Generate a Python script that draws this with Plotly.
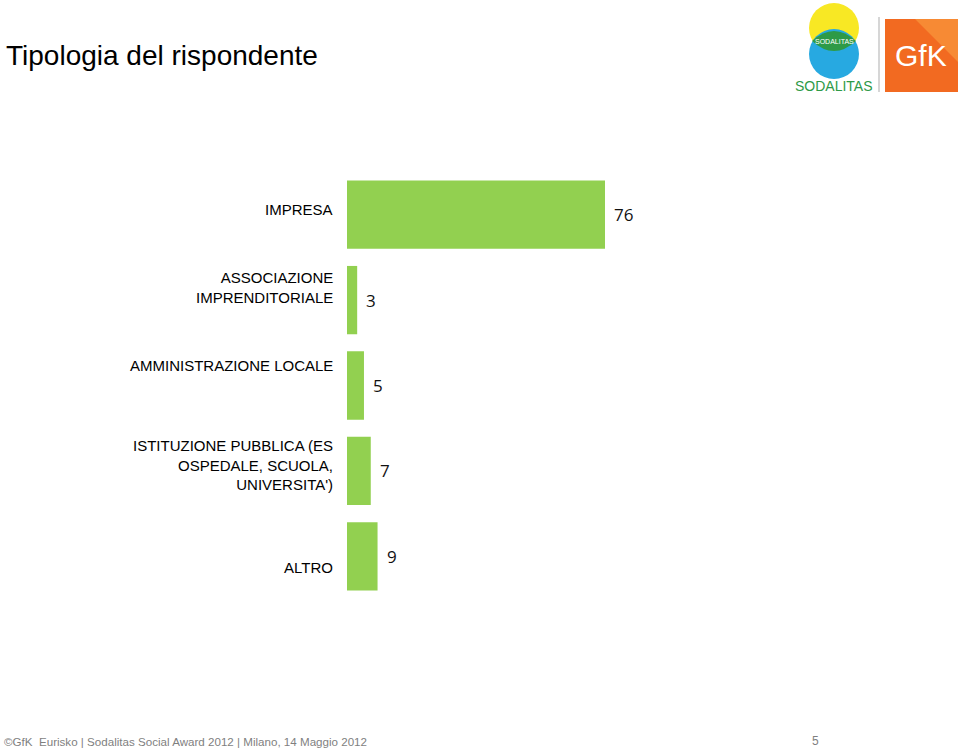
import plotly.graph_objects as go

# ---- data ----
categories = ["IMPRESA", "ASSOCIAZIONE<br>IMPRENDITORIALE", "AMMINISTRAZIONE LOCALE",
              "ISTITUZIONE PUBBLICA (ES<br>OSPEDALE, SCUOLA,<br>UNIVERSITA')", "ALTRO"]
values = [76, 3, 5, 7, 9]
title_text = "Tipologia del rispondente"
footer_text = "©GfK  Eurisko | Sodalitas Social Award 2012 | Milano, 14 Maggio 2012"
page_number = "5"

# ---- layout constants ----
W, H = 960, 752
ML, MR, MT, MB = 347, 60, 172, 153
PW, PH = W - ML - MR, H - MT - MB
label_yshift = [5, 13, 20, 6, -11]
BAR_COLOR = "#92D050"


def px(x):
    return (x - ML) / PW


def py(y):
    return (H - MB - y) / PH


fig = go.Figure()
fig.add_trace(go.Bar(
    y=list(range(len(categories))), x=values, orientation="h",
    marker=dict(color=BAR_COLOR, line=dict(width=0)),
    hoverinfo="skip",
))

annotations = []
for i, (c, v) in enumerate(zip(categories, values)):
    annotations.append(dict(x=v, y=i, xref="x", yref="y", text=str(v), showarrow=False,
                            xanchor="left", yanchor="middle", xshift=7,
                            font=dict(family="Open Sans", size=17, color="#111")))
    annotations.append(dict(x=0, y=i, xref="x", yref="y", text=c, showarrow=False,
                            xanchor="right", yanchor="middle", xshift=-12, yshift=label_yshift[i],
                            align="right",
                            font=dict(family="Liberation Sans, Arial", size=15, color="#000")))

# title
annotations.append(dict(x=px(4), y=py(56), xref="paper", yref="paper", text=title_text,
                        showarrow=False, xanchor="left", yanchor="middle",
                        font=dict(family="Liberation Sans, Arial", size=28, color="#000")))
# footer
annotations.append(dict(x=px(2), y=py(741), xref="paper", yref="paper", text=footer_text,
                        showarrow=False, xanchor="left", yanchor="middle",
                        font=dict(family="Liberation Sans, Arial", size=11.6, color="#7f7f7f")))
annotations.append(dict(x=px(815), y=py(741), xref="paper", yref="paper", text=page_number,
                        showarrow=False, xanchor="center", yanchor="middle",
                        font=dict(family="Liberation Sans, Arial", size=12, color="#7f7f7f")))

# logos (text parts)
annotations.append(dict(x=px(834), y=py(86), xref="paper", yref="paper", text="SODALITAS",
                        showarrow=False, xanchor="center", yanchor="middle",
                        font=dict(family="Liberation Sans, Arial", size=14, color="#2E9A47")))
annotations.append(dict(x=px(834), y=py(41), xref="paper", yref="paper", text="SODALITAS",
                        showarrow=False, xanchor="center", yanchor="middle",
                        font=dict(family="Liberation Sans, Arial", size=7, color="#ffffff")))
annotations.append(dict(x=px(921), y=py(56), xref="paper", yref="paper", text="GfK",
                        showarrow=False, xanchor="center", yanchor="middle",
                        font=dict(family="Liberation Sans, Arial", size=30, color="#ffffff")))

shapes = []
# Sodalitas circles
shapes.append(dict(type="circle", xref="paper", yref="paper",
                   x0=px(809), x1=px(859), y0=py(3), y1=py(53),
                   fillcolor="#F8E824", line=dict(width=0), layer="above"))
shapes.append(dict(type="circle", xref="paper", yref="paper",
                   x0=px(809), x1=px(859), y0=py(29), y1=py(79),
                   fillcolor="#27A9E1", line=dict(width=0), layer="above"))
lens = "M {x0},{y0} Q {cx},{ya} {x1},{y0} Q {cx},{yb} {x0},{y0} Z".format(
    x0=px(812), x1=px(856), y0=py(41), cx=px(834), ya=py(21), yb=py(61))
shapes.append(dict(type="path", xref="paper", yref="paper", path=lens,
                   fillcolor="#2E9A47", line=dict(width=0), layer="above"))
# separator
shapes.append(dict(type="line", xref="paper", yref="paper",
                   x0=px(879), x1=px(879), y0=py(17), y1=py(92),
                   line=dict(color="#c8c8c8", width=1.5), layer="above"))
# GfK square
shapes.append(dict(type="rect", xref="paper", yref="paper",
                   x0=px(885), x1=px(958), y0=py(19), y1=py(92),
                   fillcolor="#F26A21", line=dict(width=0), layer="above"))
tri = "M {a},{b} L {c},{b} L {c},{d} Z".format(a=px(915), b=py(19), c=px(958), d=py(62))
shapes.append(dict(type="path", xref="paper", yref="paper", path=tri,
                   fillcolor="#F7923A", line=dict(width=0), layer="above", opacity=0.8))

fig.update_layout(
    width=W, height=H,
    margin=dict(l=ML, r=MR, t=MT, b=MB),
    paper_bgcolor="#ffffff", plot_bgcolor="#ffffff",
    showlegend=False,
    bargap=0.2,
    xaxis=dict(range=[0, 162.9], visible=False, fixedrange=True),
    yaxis=dict(range=[len(categories) - 0.5, -0.5], visible=False, fixedrange=True),
    annotations=annotations,
    shapes=shapes,
)

fig.write_html("out.html", config={"displayModeBar": False},
               post_script="document.body.style.margin='0';document.body.style.overflow='hidden';")
